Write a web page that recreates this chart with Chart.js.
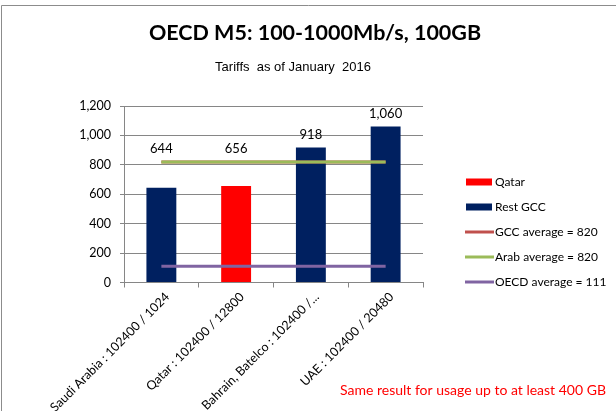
<!DOCTYPE html>
<html><head><meta charset="utf-8">
<script src="https://cdn.jsdelivr.net/npm/chart.js@4"></script>
<style>html,body{margin:0;padding:0;background:#fff}#wrap{width:616px;height:411px;position:relative}</style>
</head><body><div id="wrap"><canvas id="c" width="616" height="411"></canvas></div>
<script>
const categories = ["Saudi Arabia : 102400 / 1024", "Qatar : 102400 / 12800", "Bahrain, Batelco : 102400 /...", "UAE : 102400 / 20480"];
const qatarValues = [null, 656, null, null];
const restGccValues = [644, null, 918, 1060];
const gccAverage = [820, 820, 820, 820];
const arabAverage = [820, 820, 820, 820];
const oecdAverage = [111, 111, 111, 111];
const yTicks = [0, 200, 400, 600, 800, 1000, 1200];
const titleText = "OECD M5: 100-1000Mb/s, 100GB";
const subtitleText = "Tariffs  as of January  2016";
const noteText = "Same result for usage up to at least 400 GB";

const FONT = "Lato, 'Open Sans', sans-serif";

const extras = {
  id: 'extras',
  afterDraw(chart) {
    const ctx = chart.ctx;
    ctx.save();
    // frame
    ctx.strokeStyle = '#8c8c8c'; ctx.lineWidth = 1;
    ctx.beginPath(); ctx.moveTo(1.5, 411); ctx.lineTo(1.5, 5.5); ctx.lineTo(616, 5.5); ctx.stroke();
    // titles
    ctx.fillStyle = '#000'; ctx.textAlign = 'center'; ctx.textBaseline = 'middle';
    ctx.font = 'bold 21.5px ' + FONT;
    ctx.fillText(titleText, 315, 33);
    ctx.font = "13px 'Liberation Sans', Arial, sans-serif";
    ctx.fillText(subtitleText, 293, 67);
    // data labels
    const y = chart.scales.y;
    const lineSets = chart.data.datasets.filter(d => d.type === 'line');
    ctx.font = '13px ' + FONT;
    chart.data.datasets.forEach((ds, di) => {
      if (ds.type === 'line') return;
      const meta = chart.getDatasetMeta(di);
      ds.data.forEach((v, i) => {
        if (v == null) return;
        const el = meta.data[i];
        const lineMax = Math.max(...lineSets.map(l => l.data[i]));
        const top = Math.min(el.y, y.getPixelForValue(lineMax));
        ctx.fillText(v.toLocaleString('en-US'), el.x, top - 13);
      });
    });
    // legend
    let ly = 182;
    ctx.font = '12px ' + FONT; ctx.textAlign = 'left';
    chart.data.datasets.forEach(ds => {
      if (ds.type === 'line') {
        ctx.strokeStyle = ds.borderColor; ctx.lineWidth = 3;
        ctx.beginPath(); ctx.moveTo(465, ly); ctx.lineTo(494, ly); ctx.stroke();
      } else {
        ctx.fillStyle = ds.backgroundColor; ctx.fillRect(466, ly - 3.5, 26, 7);
      }
      ctx.fillStyle = '#000';
      ctx.fillText(ds.label, 495, ly);
      ly += 25;
    });
    // note
    ctx.fillStyle = '#ff0000'; ctx.font = '14px ' + FONT;
    ctx.fillText(noteText, 340, 390);
    ctx.restore();
  }
};

new Chart(document.getElementById('c'), {
  data: {
    labels: categories,
    datasets: [
      { type: 'bar', label: 'Qatar', data: qatarValues, backgroundColor: '#FF0000', grouped: false, barPercentage: 0.4, categoryPercentage: 1, order: 5 },
      { type: 'bar', label: 'Rest GCC', data: restGccValues, backgroundColor: '#002060', grouped: false, barPercentage: 0.4, categoryPercentage: 1, order: 5 },
      { type: 'line', label: 'GCC average = 820', data: gccAverage, borderColor: '#C0504D', borderWidth: 3, pointRadius: 0, order: 3 },
      { type: 'line', label: 'Arab average = 820', data: arabAverage, borderColor: '#9BBB59', borderWidth: 3, pointRadius: 0, order: 2 },
      { type: 'line', label: 'OECD average = 111', data: oecdAverage, borderColor: '#8064A2', borderWidth: 3, pointRadius: 0, order: 1 }
    ]
  },
  options: {
    responsive: false,
    animation: false,
    layout: { padding: { left: 0, right: 193, top: 106, bottom: 0 } },
    plugins: {
      legend: { display: false },
      tooltip: { enabled: false },
      title: { display: false },
      subtitle: { display: false }
    },
    scales: {
      x: {
        offset: true,
        grid: { offset: true, drawOnChartArea: false, drawTicks: true, tickLength: 5, color: '#868686' },
        border: { color: '#868686', width: 1 },
        ticks: { color: '#000', font: { family: FONT, size: 12.5 }, minRotation: 45, maxRotation: 45, autoSkip: false, labelOffset: 6, padding: 2 },
        afterFit(s) { s.height = 411 - 282.5; }
      },
      y: {
        min: 0, max: 1200,
        afterBuildTicks(s) { s.ticks = yTicks.map(v => ({ value: v })); },
        grid: { color: '#868686', tickLength: 4, drawTicks: true },
        border: { color: '#868686', width: 1 },
        ticks: { color: '#000', font: { family: FONT, size: 12.5 }, padding: 9, callback: v => v.toLocaleString('en-US') },
        afterFit(s) { s.width = 124; }
      }
    }
  },
  plugins: [extras]
});
</script></body></html>
